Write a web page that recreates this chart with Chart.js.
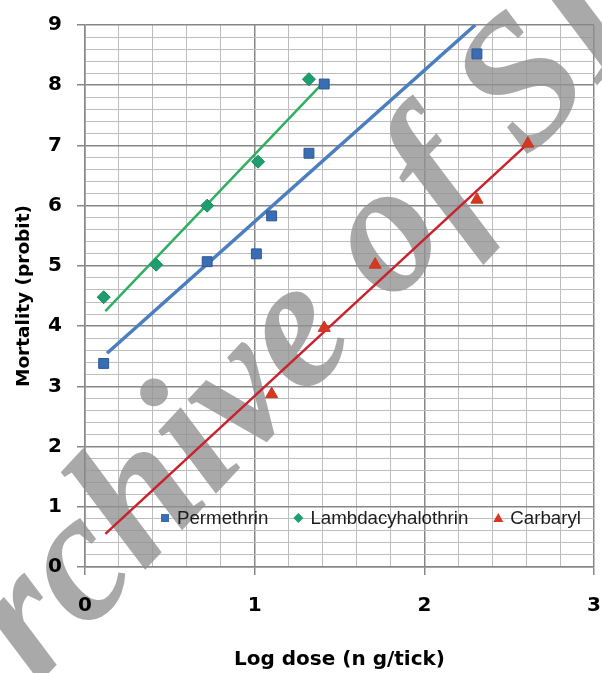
<!DOCTYPE html>
<html>
<head>
<meta charset="utf-8">
<script src="https://cdn.jsdelivr.net/npm/chart.js@4.4.1/dist/chart.umd.min.js"></script>
<style>
  html, body { margin: 0; padding: 0; background: #ffffff; }
  #wrap { position: relative; width: 602px; height: 673px; }
</style>
</head>
<body>
<div id="wrap"><canvas id="c" width="602" height="673"></canvas></div>
<script>
// ---------------- data ----------------
const seriesNames = ['Permethrin', 'Lambdacyhalothrin', 'Carbaryl'];

const permethrinX = [0.11, 0.72, 1.01, 1.10, 1.32, 1.41, 2.31];
const permethrinY = [3.38, 5.07, 5.20, 5.83, 6.87, 8.02, 8.52];

const lambdaX = [0.11, 0.42, 0.72, 1.02, 1.32];
const lambdaY = [4.48, 5.02, 6.00, 6.73, 8.10];

const carbarylX = [1.10, 1.41, 1.71, 2.31, 2.61];
const carbarylY = [2.87, 3.97, 5.02, 6.10, 7.03];

// trend line end points (as drawn in the reference)
const permethrinTrendX = [0.13, 2.30];
const permethrinTrendY = [3.55, 9.00];
const lambdaTrendX = [0.12, 1.39];
const lambdaTrendY = [4.25, 8.00];
const carbarylTrendX = [0.12, 2.61];
const carbarylTrendY = [0.55, 7.03];

const xTickLabels = ['0', '1', '2', '3'];
const yTickLabels = ['0', '1', '2', '3', '4', '5', '6', '7', '8', '9'];
const xAxisTitle = 'Log dose (n g/tick)';
const yAxisTitle = 'Mortality (probit)';
const watermarkText = 'Archive of SID';

// ---------------- helpers ----------------
const zip = (xs, ys) => xs.map((x, i) => ({ x: x, y: ys[i] }));
const isMajor = v => Math.abs(v - Math.round(v)) < 1e-6;

const COLORS = {
  permFill: '#3A6DB4', permBorder: '#2C5A94', permLine: '#4A7EBF',
  lamFill: '#1E9E6E', lamBorder: '#188A5E', lamLine: '#2EB060',
  carFill: '#D8361F', carBorder: '#C43A22', carLine: '#C8222E'
};

function gridColor(ctx) { return isMajor(ctx.tick.value) ? '#878787' : '#bdbdbd'; }
function gridWidth(ctx) { return isMajor(ctx.tick.value) ? 1.5 : 1; }
function tickColor(ctx) { return isMajor(ctx.tick.value) ? '#878787' : 'rgba(0,0,0,0)'; }

// watermark drawn under the chart content
function drawWatermark(chart, inside) {
  const ctx = chart.ctx;
  const a = chart.chartArea;
  ctx.save();
  ctx.beginPath();
  if (inside) {
    ctx.rect(a.left, a.top, a.right - a.left, a.bottom - a.top);
    ctx.clip();
  } else {
    ctx.rect(0, 0, chart.width, chart.height);
    ctx.rect(a.left, a.top, a.right - a.left, a.bottom - a.top);
    ctx.clip('evenodd');
  }
  ctx.font = 'italic bold 185px "Liberation Serif", "DejaVu Serif", serif';
  ctx.fillStyle = 'rgba(145,145,145,0.78)';
  ctx.textBaseline = 'alphabetic';
  ctx.translate(423, 272);
  ctx.rotate(-47 * Math.PI / 180);
  const off = ctx.measureText('Archive ').width + ctx.measureText('o').width / 2;
  ctx.fillText(watermarkText, -off, 0);
  ctx.restore();
}

const watermarkPlugin = {
  id: 'watermark',
  beforeDraw(chart) {
    const ctx = chart.ctx;
    ctx.save();
    ctx.fillStyle = '#ffffff';
    ctx.fillRect(0, 0, chart.width, chart.height);
    ctx.restore();
    drawWatermark(chart, false);
  },
  beforeDatasetsDraw(chart) { drawWatermark(chart, true); }
};

// legend drawn inside the plot area
const insideLegend = {
  id: 'insideLegend',
  afterDatasetsDraw(chart) {
    const ctx = chart.ctx;
    const a = chart.chartArea;
    const y = a.bottom - 49;
    let x = a.left + 80;
    ctx.save();
    ctx.font = '18.7px "Liberation Sans", Arial, sans-serif';
    ctx.textBaseline = 'middle';
    ctx.textAlign = 'left';
    chart.data.datasets.forEach(ds => {
      if (!ds.legendItem) return;
      ctx.fillStyle = ds.backgroundColor;
      ctx.beginPath();
      if (ds.pointStyle === 'rect') {
        ctx.rect(x - 4, y - 4, 8, 8);
      } else if (ds.pointStyle === 'rectRot') {
        ctx.moveTo(x, y - 5); ctx.lineTo(x + 5, y); ctx.lineTo(x, y + 5); ctx.lineTo(x - 5, y);
        ctx.closePath();
      } else {
        ctx.moveTo(x, y - 5); ctx.lineTo(x + 5, y + 4); ctx.lineTo(x - 5, y + 4);
        ctx.closePath();
      }
      ctx.fill();
      ctx.fillStyle = '#1c1c1c';
      const tx = x + 12;
      ctx.fillText(ds.label, tx, y + 1);
      x = tx + ctx.measureText(ds.label).width + 30;
    });
    ctx.restore();
  }
};

const datasets = [
  {
    label: seriesNames[0], legendItem: true,
    data: zip(permethrinX, permethrinY),
    pointStyle: 'rect', pointRadius: 7,
    backgroundColor: COLORS.permFill, borderColor: COLORS.permBorder, borderWidth: 1,
    showLine: false
  },
  {
    label: seriesNames[1], legendItem: true,
    data: zip(lambdaX, lambdaY),
    pointStyle: 'rectRot', pointRadius: 6.5,
    backgroundColor: COLORS.lamFill, borderColor: COLORS.lamBorder, borderWidth: 1,
    showLine: false
  },
  {
    label: seriesNames[2], legendItem: true,
    data: zip(carbarylX, carbarylY),
    pointStyle: 'triangle', pointRadius: 7,
    backgroundColor: COLORS.carFill, borderColor: COLORS.carBorder, borderWidth: 1,
    showLine: false
  },
  {
    label: seriesNames[0] + ' trend',
    data: zip(permethrinTrendX, permethrinTrendY),
    showLine: true, pointRadius: 0, borderColor: COLORS.permLine, borderWidth: 3.5,
    backgroundColor: COLORS.permLine
  },
  {
    label: seriesNames[1] + ' trend',
    data: zip(lambdaTrendX, lambdaTrendY),
    showLine: true, pointRadius: 0, borderColor: COLORS.lamLine, borderWidth: 2.5,
    backgroundColor: COLORS.lamLine
  },
  {
    label: seriesNames[2] + ' trend',
    data: zip(carbarylTrendX, carbarylTrendY),
    showLine: true, pointRadius: 0, borderColor: COLORS.carLine, borderWidth: 2.5,
    backgroundColor: COLORS.carLine
  }
];

const tickFont = { family: '"DejaVu Sans", sans-serif', size: 20, weight: 'bold' };

new Chart(document.getElementById('c'), {
  type: 'scatter',
  data: { datasets: datasets },
  plugins: [watermarkPlugin, insideLegend],
  options: {
    responsive: false,
    animation: false,
    events: [],
    layout: { padding: { left: 0, top: 25, right: 5, bottom: 0 } },
    plugins: { legend: { display: false }, tooltip: { enabled: false } },
    scales: {
      x: {
        type: 'linear', min: 0, max: 3,
        afterFit(scale) { scale.height = 106; scale.paddingLeft = 0; scale.paddingRight = 0; },
        ticks: {
          stepSize: 0.2, autoSkip: false, maxRotation: 0, minRotation: 0,
          padding: 19, color: '#000', font: tickFont,
          callback: v => isMajor(v) ? xTickLabels[Math.round(v)] : ''
        },
        grid: { color: gridColor, lineWidth: gridWidth, tickColor: tickColor, tickLength: 8, drawTicks: true },
        border: { display: true, color: '#878787', width: 1.5 },
        title: {
          display: true, text: xAxisTitle, color: '#000',
          font: { family: '"DejaVu Sans", sans-serif', size: 20, weight: 'bold' },
          padding: { top: 0, bottom: 1 }
        }
      },
      y: {
        type: 'linear', min: 0, max: 9,
        afterFit(scale) { scale.width = 85; scale.paddingTop = 0; scale.paddingBottom = 0; },
        ticks: {
          stepSize: 0.2, autoSkip: false,
          padding: 15, color: '#000', font: tickFont,
          callback: v => isMajor(v) ? yTickLabels[Math.round(v)] : ''
        },
        grid: { color: gridColor, lineWidth: gridWidth, tickColor: tickColor, tickLength: 8, drawTicks: true },
        border: { display: true, color: '#878787', width: 1.5 },
        title: {
          display: true, text: yAxisTitle, color: '#000',
          font: { family: '"DejaVu Sans", sans-serif', size: 18.5, weight: 'bold' },
          padding: { top: 13, bottom: 0 }
        }
      }
    }
  }
});
</script>
</body>
</html>
